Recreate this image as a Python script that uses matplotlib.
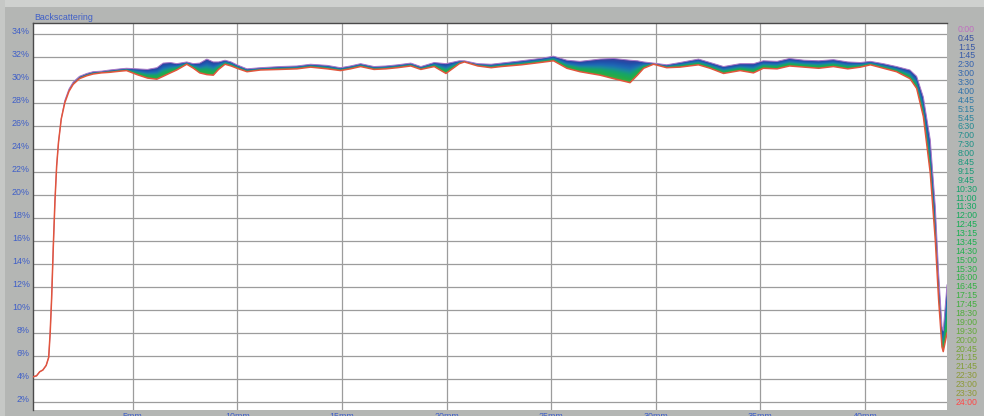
import numpy as np
import matplotlib
matplotlib.use("Agg")
from matplotlib import pyplot as plt
from matplotlib.colors import LinearSegmentedColormap
from matplotlib.patches import Rectangle

# position along the sample cell (mm)
pos_mm = [0.20, 0.40, 0.55, 0.70, 0.86, 0.98, 1.05, 1.12, 1.20, 1.28,
          1.36, 1.45, 1.58, 1.75, 1.95, 2.15, 2.45, 2.80, 3.10, 3.50,
          3.90, 4.40, 4.70, 5.20, 5.70, 6.15, 6.45, 6.80, 7.10, 7.58,
          7.90, 8.20, 8.54, 8.85, 9.10, 9.41, 9.70, 9.98, 10.46, 11.10,
          12.05, 12.85, 13.50, 14.30, 14.93, 15.40, 15.89, 16.53, 17.10, 17.65,
          18.29, 18.77, 19.41, 19.97, 20.61, 20.85, 21.49, 22.13, 22.61, 23.57,
          24.47, 25.11, 25.75, 26.38, 27.34, 27.98, 28.77, 29.12, 29.42, 29.89,
          30.52, 31.16, 32.04, 32.60, 33.24, 34.03, 34.67, 35.14, 35.80, 36.39,
          37.09, 37.79, 38.49, 39.18, 39.78, 40.26, 40.88, 41.51, 42.15, 42.47,
          42.79, 43.12, 43.36, 43.52, 43.68, 43.74, 43.92]

# backscattering (%) of the first scan (0:00), upper edge of the bundle
bs_first = [4.20, 4.30, 4.65, 4.80, 5.20, 5.90, 8.0, 11.0, 15.5, 19.5,
            22.5, 24.6, 26.6, 28.2, 29.2, 29.8, 30.3, 30.55, 30.7, 30.75,
            30.85, 30.95, 31.0, 30.95, 30.9, 31.05, 31.45, 31.5, 31.4, 31.55,
            31.4, 31.45, 31.8, 31.55, 31.55, 31.7, 31.55, 31.3, 30.95, 31.05,
            31.15, 31.2, 31.35, 31.25, 31.05, 31.2, 31.4, 31.15, 31.2, 31.3,
            31.45, 31.15, 31.5, 31.4, 31.65, 31.65, 31.4, 31.35, 31.45, 31.65,
            31.85, 32.05, 31.7, 31.6, 31.8, 31.85, 31.7, 31.65, 31.55, 31.45,
            31.3, 31.5, 31.8, 31.5, 31.15, 31.4, 31.4, 31.65, 31.6, 31.85,
            31.7, 31.65, 31.75, 31.55, 31.5, 31.6, 31.4, 31.15, 30.85, 30.3,
            28.5, 24.8, 19.0, 13.2, 8.6, 8.2, 12.2]

# backscattering (%) of the last scan (24:00), lower edge of the bundle
bs_last = [4.20, 4.30, 4.65, 4.80, 5.20, 5.90, 8.0, 11.0, 15.5, 19.5,
           22.5, 24.6, 26.6, 28.0, 29.0, 29.6, 30.1, 30.35, 30.5, 30.6,
           30.65, 30.75, 30.8, 30.45, 30.15, 30.05, 30.3, 30.6, 30.85, 31.35,
           31.0, 30.6, 30.45, 30.4, 30.9, 31.35, 31.2, 31.0, 30.7, 30.85,
           30.9, 30.95, 31.1, 30.95, 30.8, 30.95, 31.15, 30.9, 30.95, 31.05,
           31.2, 30.9, 31.15, 30.55, 31.4, 31.55, 31.2, 31.05, 31.15, 31.3,
           31.5, 31.65, 31.0, 30.7, 30.4, 30.1, 29.75, 30.4, 31.0, 31.35,
           31.05, 31.1, 31.3, 31.0, 30.55, 30.8, 30.6, 31.0, 30.95, 31.2,
           31.1, 31.0, 31.15, 30.95, 31.1, 31.3, 31.0, 30.7, 30.1, 29.25,
           26.8, 21.9, 16.1, 10.9, 6.8, 6.4, 8.0]

scan_times = ['0:00', '0:45', '1:15', '1:45', '2:30', '3:00', '3:30', '4:00',
              '4:45', '5:15', '5:45', '6:30', '7:00', '7:30', '8:00', '8:45',
              '9:15', '9:45', '10:30', '11:00', '11:30', '12:00', '12:45',
              '13:15', '13:45', '14:30', '15:00', '15:30', '16:00', '16:45',
              '17:15', '17:45', '18:30', '19:00', '19:30', '20:00', '20:45',
              '21:15', '21:45', '22:30', '23:00', '23:30', '24:00']

ytick_vals = list(range(2, 36, 2))
ytick_labels = ['%d%%' % v for v in ytick_vals]
xtick_vals = [5, 10, 15, 20, 25, 30, 35, 40]
xtick_labels = ['%dmm' % v for v in xtick_vals]

plt.rcParams['font.family'] = ['Liberation Sans', 'DejaVu Sans']

W, H = 984, 416
blue_txt = '#3f5fc8'

fig = plt.figure(figsize=(W / 100, H / 100), dpi=100, facecolor='#b4b6b4')
fig.patches.append(Rectangle((0, 1 - 7 / H), 1, 7 / H, transform=fig.transFigure,
                             facecolor='#cfd1cf', edgecolor='none', zorder=-5))
fig.patches.append(Rectangle((0, 0), 5 / W, 1, transform=fig.transFigure,
                             facecolor='#c6c8c6', edgecolor='none', zorder=-5))

ax = fig.add_axes([33 / W, 6 / H, 914 / W, 387 / H])
ax.set_facecolor('white')
xlo, xhi = 0.23, 43.92
ylo, yhi = 1.33, 34.93
ax.set_xlim(xlo, xhi)
ax.set_ylim(ylo, yhi)

# colour gradient across the bundle of scans, early (top) to late (bottom)
band_cmap = LinearSegmentedColormap.from_list('band', [
    (0.0, '#3a3f9a'), (0.15, '#1f4faa'), (0.35, '#1f6ab5'), (0.5, '#1a8a9c'),
    (0.65, '#16a46a'), (0.85, '#22ac48'), (1.0, '#4aa83a')])

x = np.asarray(pos_mm)
top = np.asarray(bs_first)
bot = np.asarray(bs_last)
gx = np.linspace(xlo, xhi, 2400)
gy = np.linspace(ylo, yhi, 1800)
GX, GY = np.meshgrid(gx, gy)
top_g = np.interp(GX, x, top)
bot_g = np.interp(GX, x, bot)
frac = np.clip((top_g - GY) / np.maximum(top_g - bot_g, 0.05), 0, 1)

im = ax.imshow(frac, extent=(xlo, xhi, ylo, yhi), origin='lower', aspect='auto',
               cmap=band_cmap, vmin=0, vmax=1, interpolation='bilinear', zorder=3)
band = ax.fill_between(x, bot, top, facecolor='none', edgecolor='none')
im.set_clip_path(band.get_paths()[0], transform=ax.transData)

ax.plot(x, top, color='#a878c8', lw=0.7, zorder=4)
ax.plot(x, bot, color='#e2553c', lw=1.1, zorder=5)

ax.set_xticks(xtick_vals)
ax.set_xticklabels(xtick_labels)
ax.set_yticks(ytick_vals)
ax.set_yticklabels(ytick_labels)
ax.grid(True, color='#9c9c9c', lw=0.9)
ax.set_axisbelow(True)
ax.tick_params(axis='both', length=0, labelsize=6.4, labelcolor=blue_txt)
ax.tick_params(axis='x', pad=1.5)
ax.tick_params(axis='y', pad=2.2)
for lab in ax.get_yticklabels():
    lab.set_verticalalignment('baseline')

for side in ['right', 'bottom']:
    ax.spines[side].set_visible(False)
for side in ['left', 'top']:
    ax.spines[side].set_color('#4a4a4a')
    ax.spines[side].set_linewidth(1.0)

fig.text(34 / W, 1 - 17 / H, 'Backscattering', color=blue_txt, fontsize=6.4,
         ha='left', va='center')

# scan time legend on the right
legend_cmap = LinearSegmentedColormap.from_list('legend', [
    (0.0, '#3a4a9a'), (0.1, '#3562b0'), (0.2, '#2f7aa8'), (0.3, '#20908a'),
    (0.42, '#15a070'), (0.55, '#18b050'), (0.72, '#38b040'), (0.83, '#6aa838'),
    (0.94, '#8c9a38'), (1.0, '#909a38')])
label_y = np.linspace(29.3, 402.3, len(scan_times))
for i, t in enumerate(scan_times):
    h, m = t.split(':')
    hours = int(h) + int(m) / 60
    if i == 0:
        c = '#c070c0'
    elif i == len(scan_times) - 1:
        c = '#ff4848'
    else:
        c = legend_cmap(hours / 24)
    fig.text(966.5 / W, 1 - label_y[i] / H, t, color=c, fontsize=6.3,
             ha='center', va='center')

fig.savefig('out.png', dpi=100, facecolor=fig.get_facecolor())
